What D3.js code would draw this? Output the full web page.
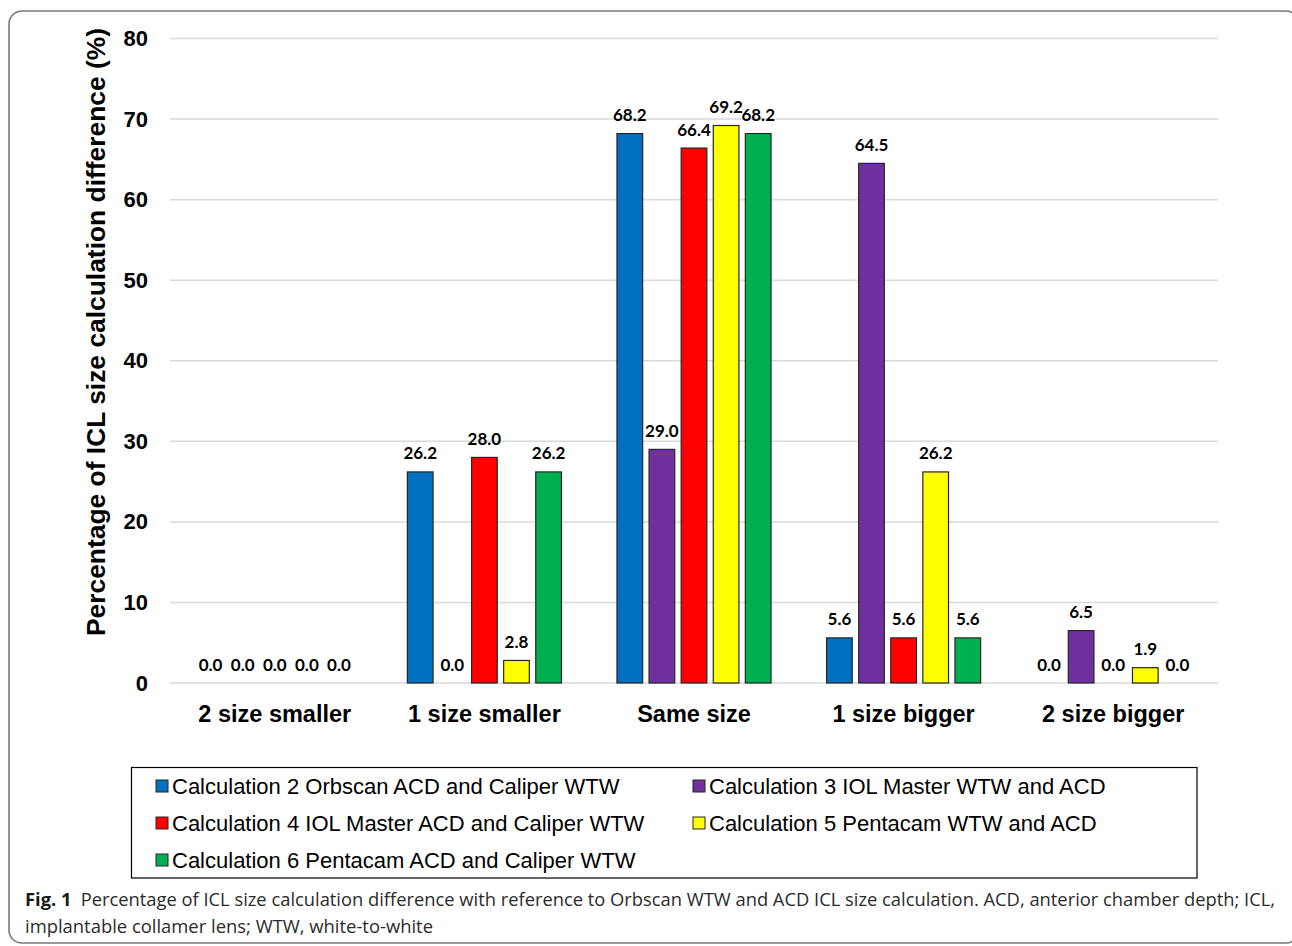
<!DOCTYPE html>
<html>
<head>
<meta charset="utf-8">
<script src="https://cdn.jsdelivr.net/npm/d3@7"></script>
<style>
  html, body { margin: 0; padding: 0; background: #fff; }
  svg { display: block; }
</style>
</head>
<body>
<svg id="chart" width="1292" height="946"></svg>
<script>
const categories = ["2 size smaller", "1 size smaller", "Same size", "1 size bigger", "2 size bigger"];
const seriesNames = [
  "Calculation 2 Orbscan ACD and Caliper WTW",
  "Calculation 3 IOL Master WTW and ACD",
  "Calculation 4 IOL Master ACD and Caliper WTW",
  "Calculation 5 Pentacam WTW and ACD",
  "Calculation 6 Pentacam ACD and Caliper WTW"
];
const calc2 = [0.0, 26.2, 68.2, 5.6, 0.0];
const calc3 = [0.0, 0.0, 29.0, 64.5, 6.5];
const calc4 = [0.0, 28.0, 66.4, 5.6, 0.0];
const calc5 = [0.0, 2.8, 69.2, 26.2, 1.9];
const calc6 = [0.0, 26.2, 68.2, 5.6, 0.0];
const yTicks = [0, 10, 20, 30, 40, 50, 60, 70, 80];
const colors = ["#0070C0", "#7030A0", "#FF0000", "#FFFF00", "#00B050"];

const seriesValues = [calc2, calc3, calc4, calc5, calc6];

const svg = d3.select("#chart");

// outer rounded frame
svg.append("rect")
  .attr("x", 9).attr("y", 11).attr("width", 1290).attr("height", 932)
  .attr("rx", 13).attr("ry", 13)
  .attr("fill", "none").attr("stroke", "#7a7a7a").attr("stroke-width", 1.6);

const plotLeft = 170, plotRight = 1218, plotTop = 38.5, plotBottom = 683;

const x0 = d3.scaleBand().domain(categories).range([plotLeft, plotRight])
  .paddingInner(0.265).paddingOuter(0.1325);
const x1 = d3.scaleBand().domain(d3.range(5)).range([0, x0.bandwidth()])
  .paddingInner(0.2).paddingOuter(0);
const y = d3.scaleLinear().domain([0, 80]).range([plotBottom, plotTop]);

// gridlines
svg.append("g").selectAll("line").data(yTicks).join("line")
  .attr("x1", plotLeft).attr("x2", plotRight)
  .attr("y1", d => y(d)).attr("y2", d => y(d))
  .attr("stroke", "#d9d9d9").attr("stroke-width", 1.5);

// y tick labels
svg.append("g").selectAll("text").data(yTicks).join("text")
  .attr("x", plotLeft - 22).attr("y", d => y(d))
  .attr("text-anchor", "end").attr("dominant-baseline", "central")
  .attr("font-family", "Liberation Sans, Arial, sans-serif")
  .attr("font-weight", "bold").attr("font-size", 22)
  .attr("fill", "#000")
  .text(d => d);

// y title
svg.append("text")
  .attr("transform", "translate(96,332) rotate(-90)")
  .attr("text-anchor", "middle").attr("dominant-baseline", "central")
  .attr("font-family", "Liberation Sans, Arial, sans-serif")
  .attr("font-weight", "bold").attr("font-size", 26.4)
  .attr("fill", "#000")
  .text("Percentage of ICL size calculation difference (%)");

// bars
const flat = [];
categories.forEach((c, ci) => {
  seriesValues.forEach((vals, si) => {
    flat.push({ cat: c, s: si, v: vals[ci] });
  });
});

svg.append("g").selectAll("rect").data(flat.filter(d => d.v > 0)).join("rect")
  .attr("x", d => x0(d.cat) + x1(d.s))
  .attr("y", d => y(d.v))
  .attr("width", x1.bandwidth())
  .attr("height", d => y(0) - y(d.v))
  .attr("fill", d => colors[d.s])
  .attr("stroke", "#262626").attr("stroke-width", 1.2);

// value labels
svg.append("g").selectAll("text").data(flat).join("text")
  .attr("x", d => x0(d.cat) + x1(d.s) + x1.bandwidth() / 2)
  .attr("y", d => y(d.v) - 12.5)
  .attr("text-anchor", "middle")
  .attr("font-family", "Lato, Carlito, sans-serif")
  .attr("font-weight", "bold").attr("font-size", 17)
  .attr("fill", "#000")
  .text(d => d.v.toFixed(1));

// category labels
svg.append("g").selectAll("text").data(categories).join("text")
  .attr("x", d => x0(d) + x0.bandwidth() / 2)
  .attr("y", 722)
  .attr("text-anchor", "middle")
  .attr("font-family", "Liberation Sans, Arial, sans-serif")
  .attr("font-weight", "bold").attr("font-size", 23.5)
  .attr("fill", "#000")
  .text(d => d);

// legend
svg.append("rect")
  .attr("x", 131.5).attr("y", 767.5).attr("width", 1065.5).attr("height", 110.5)
  .attr("fill", "#fff").attr("stroke", "#000").attr("stroke-width", 1.2);

const legendPos = [
  { x: 156, y: 786 }, { x: 693, y: 786 },
  { x: 156, y: 823 }, { x: 693, y: 823 },
  { x: 156, y: 860 }
];
const lg = svg.append("g").selectAll("g").data(seriesNames).join("g")
  .attr("transform", (d, i) => `translate(${legendPos[i].x},${legendPos[i].y})`);
lg.append("rect")
  .attr("x", 0).attr("y", -6).attr("width", 12).attr("height", 12)
  .attr("fill", (d, i) => colors[i]).attr("stroke", "#262626").attr("stroke-width", 1);
lg.append("text")
  .attr("x", 16).attr("y", 0).attr("dominant-baseline", "central")
  .attr("font-family", "Liberation Sans, Arial, sans-serif")
  .attr("font-size", 22).attr("fill", "#000")
  .text(d => d);

// caption
const cap1 = svg.append("text")
  .attr("x", 25).attr("y", 906)
  .attr("font-family", "Open Sans, sans-serif")
  .attr("font-size", 17.5).attr("fill", "#2b2b2b")
  .attr("textLength", 1250).attr("lengthAdjust", "spacingAndGlyphs");
cap1.append("tspan").attr("font-weight", "bold").attr("fill", "#1a1a1a").text("Fig. 1");
cap1.append("tspan").text("\u2002Percentage of ICL size calculation difference with reference to Orbscan WTW and ACD ICL size calculation. ACD, anterior chamber depth; ICL,");
svg.append("text")
  .attr("x", 25).attr("y", 933)
  .attr("font-family", "Open Sans, sans-serif")
  .attr("font-size", 17.5).attr("fill", "#2b2b2b")
  .attr("textLength", 408).attr("lengthAdjust", "spacingAndGlyphs")
  .text("implantable collamer lens; WTW, white-to-white");
</script>
</body>
</html>
